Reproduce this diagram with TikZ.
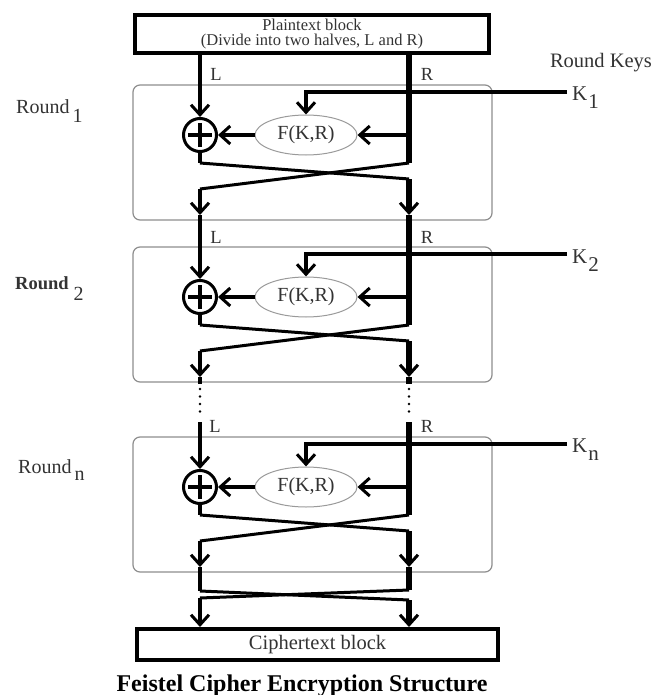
\documentclass[tikz,border=0pt]{standalone}
\usepackage{fontspec}
\setmainfont{Liberation Serif}
\usetikzlibrary{arrows.meta,shapes.geometric,calc}
\definecolor{txtc}{HTML}{333333}
\definecolor{boxgray}{HTML}{8E8E8E}
\definecolor{ellgray}{HTML}{9A9A9A}
\newcommand\fsz[1]{\fontsize{#1}{#1}\selectfont}
\begin{document}
\begin{tikzpicture}[x=1bp,y=-1bp,
  lbl/.style={text=txtc, inner sep=0pt, font=\fsz{20bp}},
  lrlbl/.style={text=txtc, inner sep=0pt, font=\fsz{18.5bp}},
  blockbox/.style={draw, line width=4bp, inner sep=0pt, text=txtc, align=center},
  roundbox/.style={draw=boxgray, line width=1.2bp, rounded corners=7bp, minimum width=359bp, minimum height=135bp, inner sep=0pt},
  xorc/.style={circle, draw, line width=3bp, minimum size=33bp, inner sep=0pt},
  fbox/.style={ellipse, draw=ellgray, line width=1bp, minimum width=102bp, minimum height=40bp, inner sep=0pt, text=txtc, font=\fsz{20bp}},
  barb/.style={-{Straight Barb[length=10bp,width=18bp,line width=3bp 0]}},
  lwire/.style={line width=4bp},
  rwire/.style={line width=5.5bp},
  dwire/.style={line width=3bp},
  kwire/.style={line width=3.5bp},
  dotwire/.style={line width=2.6bp, dash pattern=on 0bp off 7.5bp, line cap=round},
]
\fill[white] (0,0) rectangle (667,695);
\useasboundingbox (0,0) rectangle (667,695);

% plaintext block
\node[blockbox, minimum width=354bp, minimum height=38bp, font=\fsz{16.5bp}] (pt) at (312,34)
  {Plaintext block\\[-1bp](Divide into two halves, L and R)};
\coordinate (pl) at (200,53);
\coordinate (pr) at (409,53);

% rounds
\foreach \i/\T in {1/85,2/247,3/437}{
  \node[roundbox] (rb\i) at (312.5,\T+67.5) {};
  \node[xorc] (xor\i) at (200,\T+50) {};
  \node[fbox] (f\i) at (306,\T+50) {F(K,R)};
  \coordinate (ke\i) at (567,\T+7);
  \coordinate (kb\i) at (306,\T+7);
  \coordinate (ri\i) at (409,\T+50);
  \coordinate (lc\i) at (200,\T+78);
  \coordinate (ld\i) at (409,\T+94);
  \coordinate (la\i) at (409,\T+130);
  \coordinate (rc\i) at (409,\T+78);
  \coordinate (rd\i) at (200,\T+104);
  \coordinate (ra\i) at (200,\T+130);
  \draw[line width=3.5bp] (xor\i.center) ++(-12,0) -- ++(24,0)
                          (xor\i.center) ++(0,-12) -- ++(0,24);
  \draw[kwire,barb] (ke\i) -- (kb\i) -- (f\i);
  \draw[kwire,barb] (ri\i) -- (f\i);
  \draw[kwire,barb] (f\i) -- (xor\i);
  \draw[lwire] (xor\i) -- (lc\i);
  \draw[dwire] (lc\i) -- (ld\i);
  \draw[rwire,barb] (ld\i) -- (la\i);
  \draw[dwire] (rc\i) -- (rd\i);
  \draw[lwire,barb] (rd\i) -- (ra\i);
}

% round 1 inputs
\draw[lwire,barb] (pl) -- (xor1);
\draw[rwire] (pr) -- (rc1);
% round 2 inputs
\draw[lwire,barb] (ra1) -- (xor2);
\draw[rwire] (la1) -- (rc2);
% round 2 outputs, dots
\coordinate (lo2) at (200,384);
\coordinate (ro2) at (409,384);
\draw[lwire] (ra2) -- (lo2);
\draw[rwire] (la2) -- (ro2);
\coordinate (dl1) at (200,389);
\coordinate (dl2) at (200,418);
\coordinate (dr1) at (409,389);
\coordinate (dr2) at (409,418);
\draw[dotwire] (dl1) -- (dl2);
\draw[dotwire] (dr1) -- (dr2);
% round n inputs
\coordinate (ln) at (200,422);
\coordinate (rn) at (409,422);
\draw[lwire,barb] (ln) -- (xor3);
\draw[rwire] (rn) -- (rc3);

% ciphertext block
\node[blockbox, minimum width=361bp, minimum height=31bp, font=\fsz{20.5bp}] (ct) at (317.5,644.5) {Ciphertext block};
\coordinate (fl1) at (200,591);
\coordinate (fl2) at (409,600);
\coordinate (fr1) at (409,590);
\coordinate (fr2) at (200,598);
\draw[lwire] (ra3) -- (fl1);
\draw[rwire] (la3) -- (fr1);
\draw[dwire] (fl1) -- (fl2);
\draw[dwire] (fr1) -- (fr2);
\draw[rwire,barb] (fl2) -- (fl2 |- ct.north);
\draw[lwire,barb] (fr2) -- (fr2 |- ct.north);

% L / R labels
\node[lrlbl] (L1) at (216,74) {L};
\node[lrlbl] (R1) at (427,74) {R};
\node[lrlbl] (L2) at (216,237) {L};
\node[lrlbl] (R2) at (427,237) {R};
\node[lrlbl] (L3) at (215,426) {L};
\node[lrlbl] (R3) at (427,426) {R};

% round labels
\node[lbl, anchor=base west] (rl1) at (16,114) {Round\hspace{3bp}\raisebox{-9bp}{1}};
\node[lbl, anchor=base west, font=\fsz{18.5bp}] (rl2) at (15,289) {\bfseries Round\hspace{5bp}\raisebox{-11bp}{\mdseries\fsz{20bp}2}};
\node[lbl, anchor=base west] (rl3) at (18,473) {Round\hspace{3bp}\raisebox{-7bp}{n}};

% round keys
\node[lbl, font=\fsz{20.5bp}] (rk) at (601,63) {Round Keys};
\node[lbl, anchor=base west, font=\fsz{21bp}] (k1) at (572,101) {K\hspace{1bp}\raisebox{-8bp}{1}};
\node[lbl, anchor=base west, font=\fsz{21bp}] (k2) at (572,263) {K\hspace{1bp}\raisebox{-8bp}{2}};
\node[lbl, anchor=base west, font=\fsz{21bp}] (k3) at (572,452) {K\hspace{1bp}\raisebox{-8bp}{n}};

% title
\node[inner sep=0pt, anchor=base, font=\fsz{24bp}\bfseries] (title) at (302,691) {Feistel Cipher Encryption Structure};
\end{tikzpicture}
\end{document}
